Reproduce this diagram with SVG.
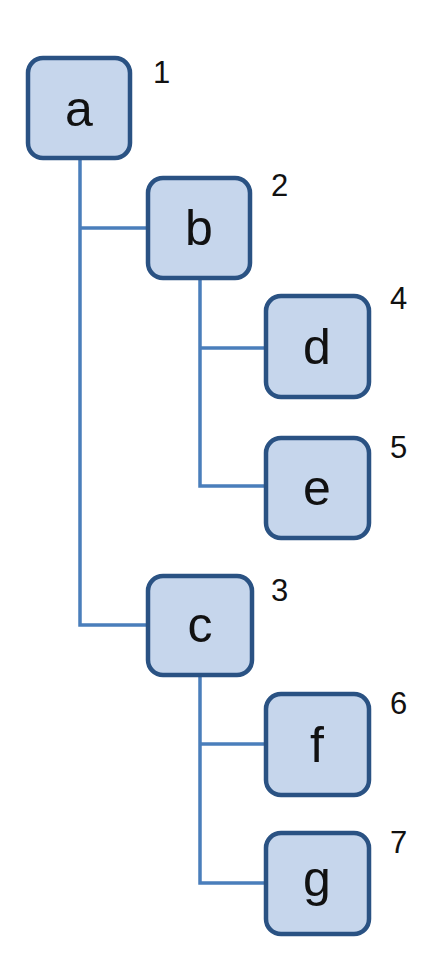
<svg xmlns="http://www.w3.org/2000/svg" width="444" height="956" viewBox="0 0 444 956">
<style>
.box{fill:#c6d6ec;stroke:#2a5283;stroke-width:4.5}
.lbl{font-family:"Liberation Sans","Open Sans",sans-serif;font-size:50px;fill:#111;text-anchor:middle}
.num{font-family:"Liberation Sans","Open Sans",sans-serif;font-size:31px;fill:#111}
.conn{fill:none;stroke:#4a7ebb;stroke-width:3.5}
</style>
<rect width="444" height="956" fill="#fff"/>
<g id="connectors">
<path class="conn" d="M80 158 V625 H148"/>
<path class="conn" d="M80 228 H148"/>
<path class="conn" d="M200 277 V486 H266"/>
<path class="conn" d="M200 348 H266"/>
<path class="conn" d="M200 675 V883 H266"/>
<path class="conn" d="M200 744 H266"/>
</g>
<g id="node-a"><rect class="box" x="28" y="58" width="102" height="100" rx="15"/><text class="lbl" x="79" y="126">a</text><text class="num" x="153" y="83">1</text></g>
<g id="node-b"><rect class="box" x="148" y="178" width="102" height="100" rx="15"/><text class="lbl" x="199" y="245">b</text><text class="num" x="271" y="196">2</text></g>
<g id="node-d"><rect class="box" x="266" y="296" width="103" height="101" rx="15"/><text class="lbl" x="317" y="364">d</text><text class="num" x="390" y="309">4</text></g>
<g id="node-e"><rect class="box" x="266" y="438" width="103" height="100" rx="15"/><text class="lbl" x="317" y="505">e</text><text class="num" x="390" y="458">5</text></g>
<g id="node-c"><rect class="box" x="148" y="576" width="104" height="99" rx="15"/><text class="lbl" x="200" y="642">c</text><text class="num" x="271" y="601">3</text></g>
<g id="node-f"><rect class="box" x="266" y="694" width="103" height="101" rx="15"/><text class="lbl" x="317" y="762">f</text><text class="num" x="390" y="714">6</text></g>
<g id="node-g"><rect class="box" x="266" y="833" width="103" height="101" rx="15"/><text class="lbl" x="317" y="896">g</text><text class="num" x="390" y="853">7</text></g>
</svg>
